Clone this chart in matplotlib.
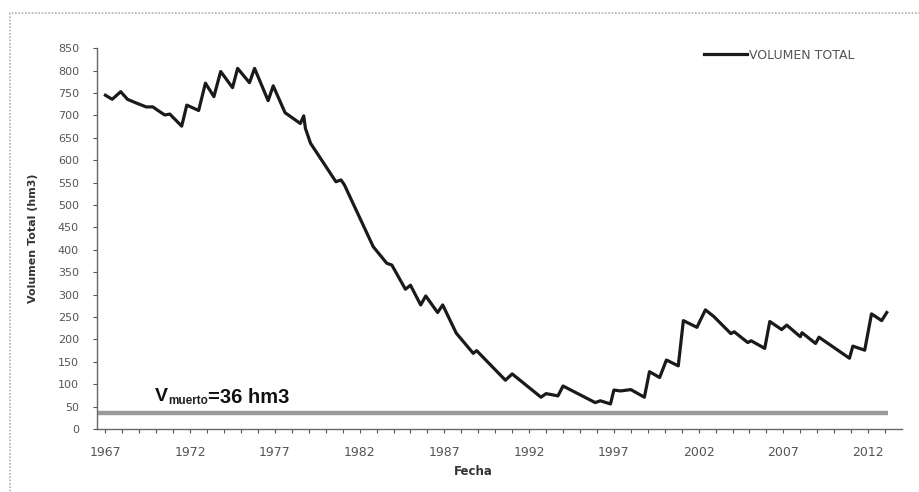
import matplotlib
matplotlib.use("Agg")
import matplotlib.pyplot as plt
from matplotlib.patches import Rectangle

# volumen total del embalse (hm3)
anio = [1967.0, 1967.4, 1967.9, 1968.3, 1968.8, 1969.4, 1969.8, 1970.1, 1970.5, 1970.8,
        1971.5, 1971.8, 1972.5, 1972.9, 1973.4, 1973.8, 1974.5, 1974.8, 1975.5, 1975.8,
        1976.6, 1976.9, 1977.6, 1978.2, 1978.5, 1978.7, 1978.8, 1979.1, 1980.6, 1980.9,
        1981.1, 1982.8, 1983.6, 1983.9, 1984.7, 1985.0, 1985.6, 1985.9, 1986.6, 1986.9,
        1987.7, 1988.7, 1988.9, 1990.6, 1991.0, 1992.7, 1993.0, 1993.7, 1994.0, 1995.9,
        1996.2, 1996.8, 1997.0, 1997.4, 1998.0, 1998.8, 1999.1, 1999.7, 2000.1, 2000.8,
        2001.1, 2001.9, 2002.4, 2002.9, 2003.9, 2004.1, 2004.9, 2005.1, 2005.9, 2006.2,
        2006.9, 2007.2, 2008.0, 2008.1, 2008.9, 2009.1, 2010.9, 2011.1, 2011.8, 2012.2,
        2012.8, 2013.1]
volumen = [745, 736, 753, 736, 728, 719, 719, 711, 701, 703,
           676, 723, 711, 772, 742, 798, 762, 805, 773, 805,
           733, 766, 706, 690, 682, 699, 671, 638, 552, 556,
           545, 407, 370, 366, 312, 321, 277, 297, 260, 277,
           214, 169, 175, 109, 123, 71, 79, 74, 96, 59,
           63, 56, 87, 85, 88, 71, 128, 115, 154, 141,
           242, 227, 266, 251, 213, 217, 193, 197, 180, 240,
           222, 232, 206, 215, 191, 205, 158, 185, 176, 257,
           242, 260]

v_muerto = 36
anios_etiqueta = [1967, 1972, 1977, 1982, 1987, 1992, 1997, 2002, 2007, 2012]
y_ticks = list(range(0, 851, 50))

plt.rcParams['font.family'] = ['DejaVu Sans']

fig = plt.figure(figsize=(9.19, 4.92), dpi=100)
ax = fig.add_axes([0.1055, 0.128, 0.876, 0.774])

# marco del grafico
fig.patches.append(Rectangle((10 / 919, -0.05), 1.0, (492 - 13) / 492 + 0.05,
                             transform=fig.transFigure, fill=False,
                             edgecolor='#b0b0b0', lw=1.2, ls=(0, (1, 1))))

ax.plot(anio, volumen, color='#1a1a1a', lw=2.3, label='VOLUMEN TOTAL')
ax.hlines(v_muerto, 1966.5, 2013.2, color='#9a9a9a', lw=3.2)

# V_muerto=36 hm3 (subindice pequeño)
t_v = ax.text(1969.9, 62, 'V', fontsize=14, fontweight='bold',
              family='Liberation Sans', color='#111111')
t_sub = ax.annotate('muerto', xy=(1, 0), xycoords=t_v, xytext=(0.5, -1.5),
                    textcoords='offset points', fontsize=8.5, fontweight='bold',
                    family='Liberation Sans', color='#222222', va='bottom')
ax.annotate('=36 hm3', xy=(1, 0), xycoords=t_sub, xytext=(0, 0.3),
            textcoords='offset points', fontsize=14.5, fontweight='bold',
            family='Liberation Sans', color='#111111', va='bottom')

ax.set_xlim(1966.5, 2014.0)
ax.set_ylim(0, 850)
ax.set_xticks(anios_etiqueta)
ax.set_xticks(range(1967, 2014), minor=True)
ax.set_yticks(y_ticks)
ax.tick_params(axis='both', labelsize=8, colors='#555555', length=3, width=0.8)
ax.tick_params(axis='y', pad=10)
ax.tick_params(axis='x', which='minor', length=3, width=0.8, colors='#555555')
ax.tick_params(axis='x', labelsize=9, pad=9)

for s in ['top', 'right']:
    ax.spines[s].set_visible(False)
for s in ['left', 'bottom']:
    ax.spines[s].set_color('#666666')
    ax.spines[s].set_linewidth(1.0)

ax.set_xlabel('Fecha', fontsize=8.5, fontweight='bold', color='#333333')
ax.xaxis.set_label_coords(0.468, -0.095)
ax.set_ylabel('Volumen Total (hm3)', fontsize=8, fontweight='bold', color='#333333')
ax.yaxis.set_label_coords(-0.073, 0.5)

leg = ax.legend(loc='upper right', bbox_to_anchor=(0.955, 1.028), frameon=False,
                fontsize=9, handlelength=3.4, handletextpad=0.2)
for t in leg.get_texts():
    t.set_color('#555555')

fig.savefig('out.png', dpi=100)
